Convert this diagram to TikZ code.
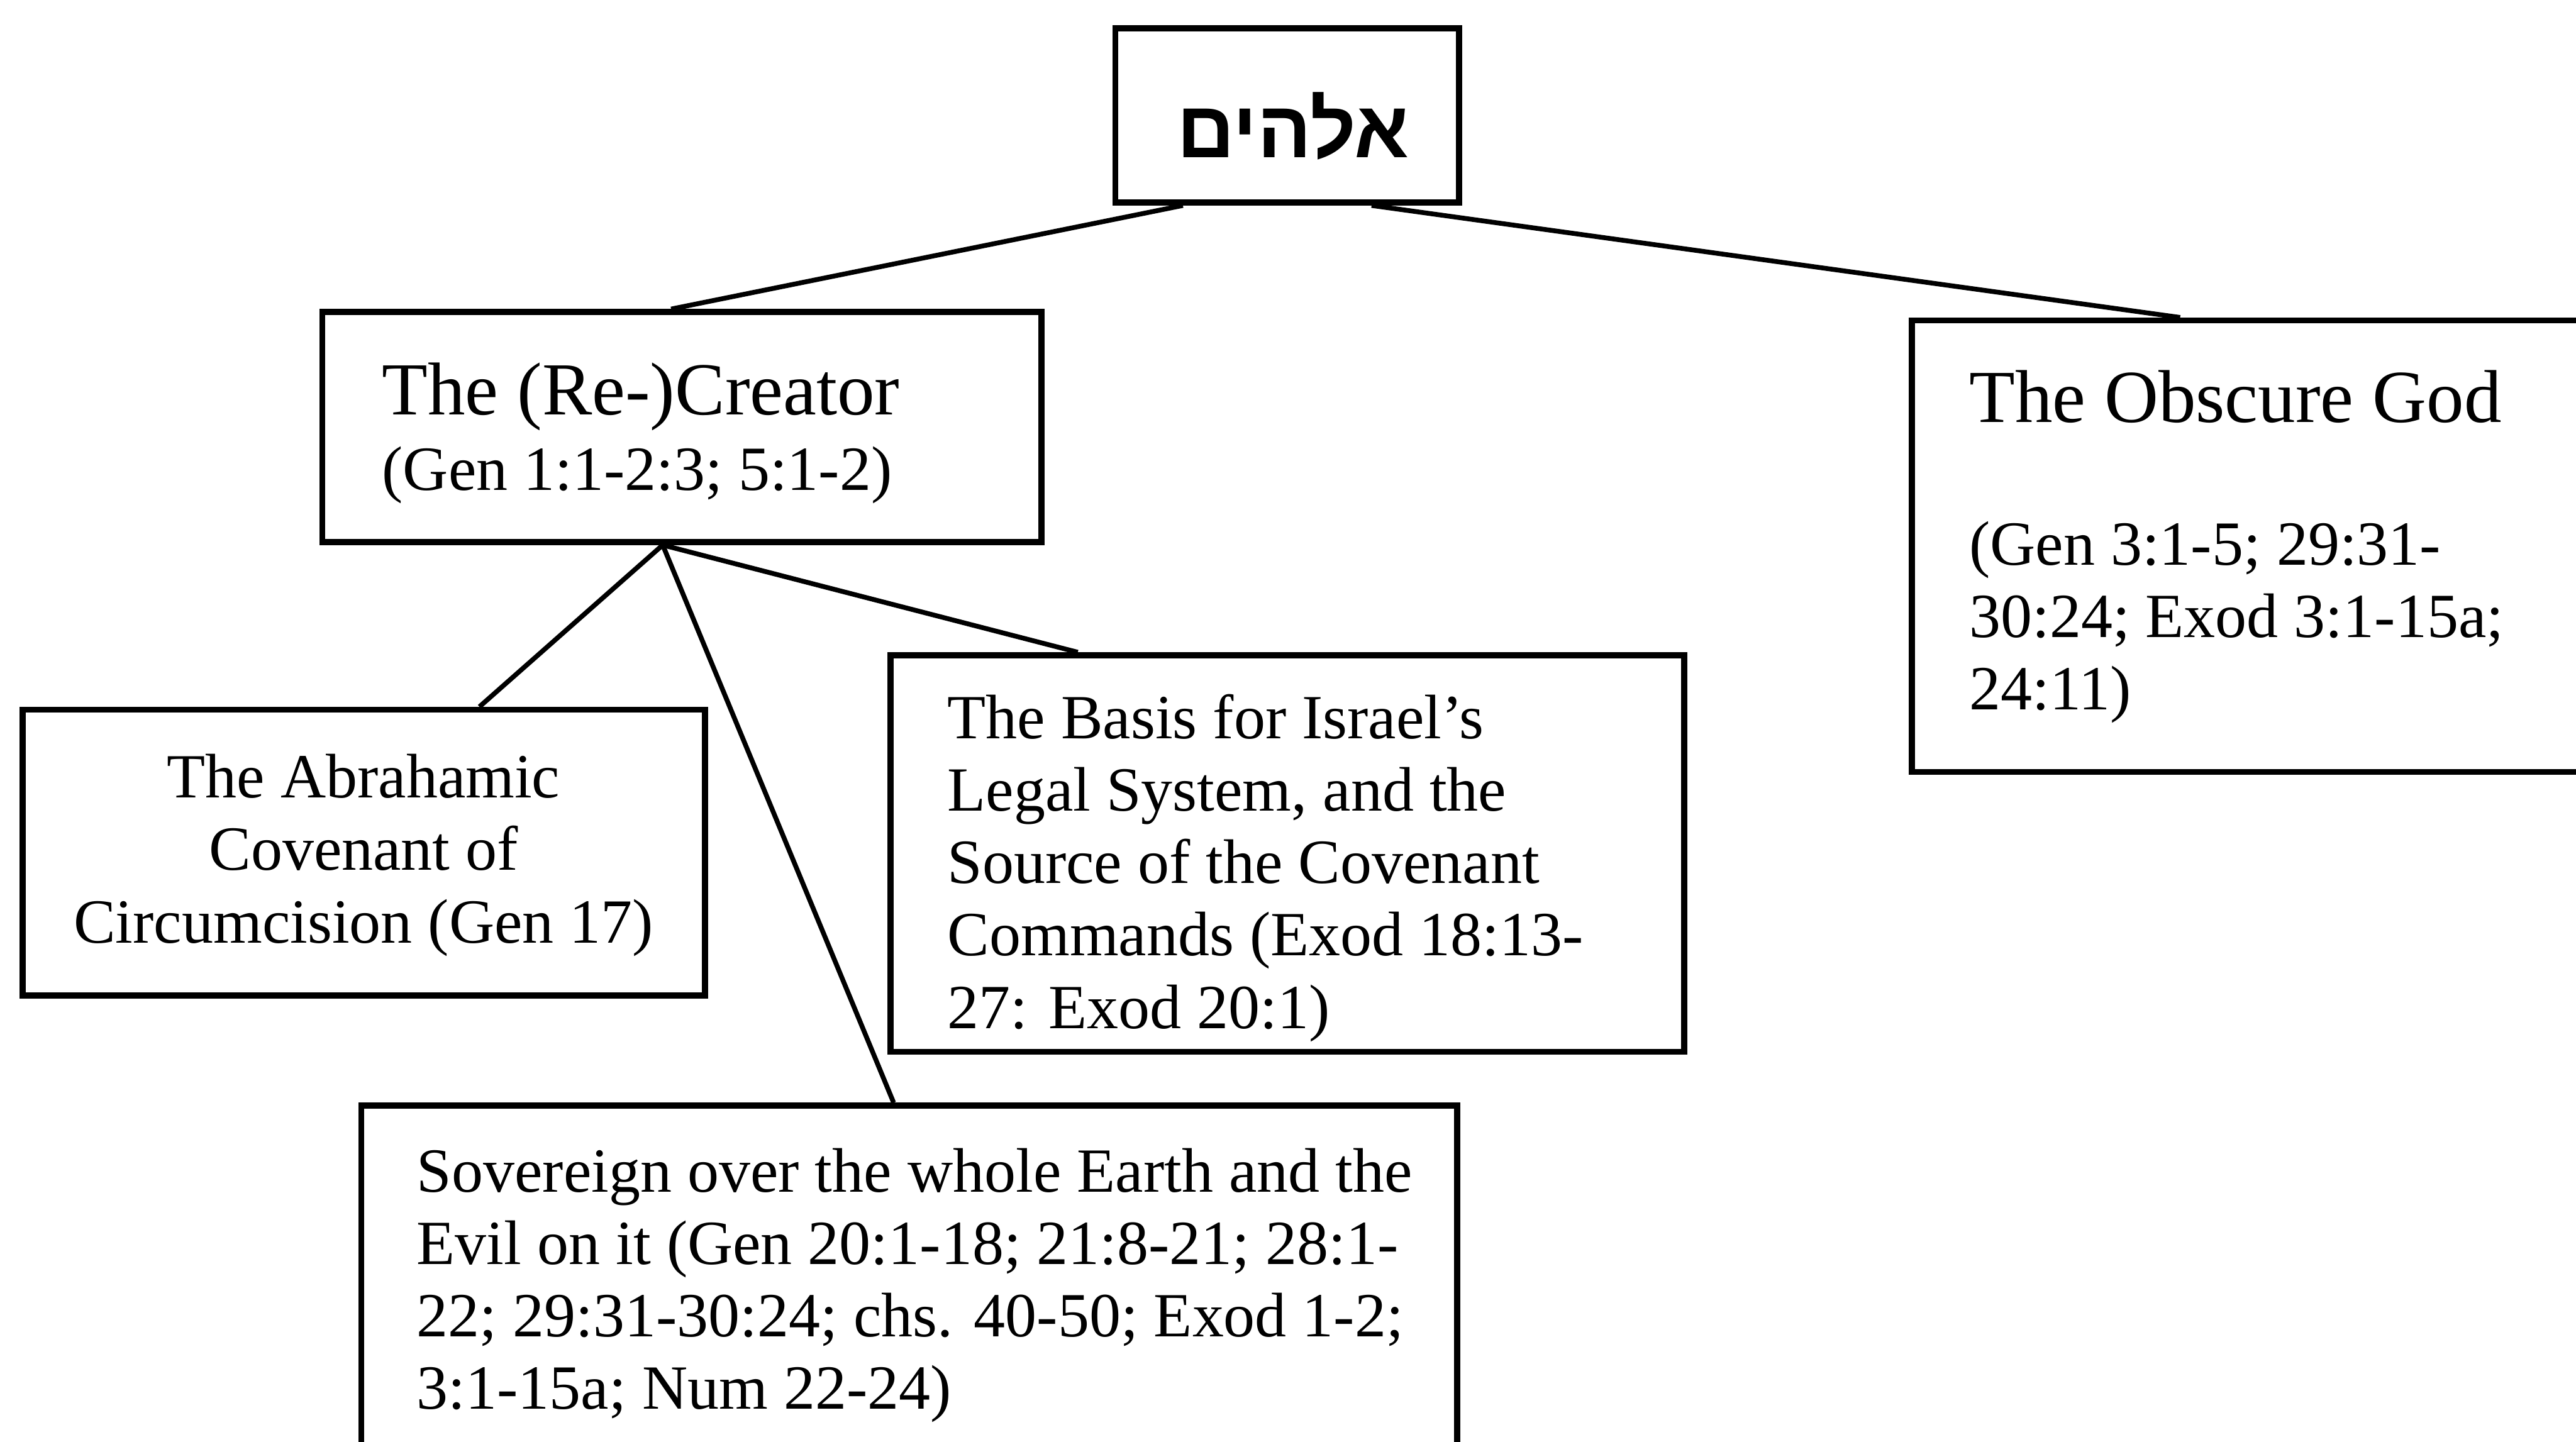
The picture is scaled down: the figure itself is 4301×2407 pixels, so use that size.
\documentclass[tikz,border=0pt]{standalone}
\usepackage{fontspec}
\setmainfont{Liberation Serif}
\newfontfamily\hebfont[Script=Hebrew]{Liberation Sans}
\TeXXeTstate=1
\newcommand\hdfont{\fontsize{12.5}{14}\selectfont}

\begin{document}
\begin{tikzpicture}[x=0.1pt,y=0.1pt,yscale=-1,xscale=1,
  box/.style={draw, line width=1pt, rectangle, inner sep=0pt},
  txt/.style={inner sep=0pt, align=left, anchor=base west, font=\fontsize{10.5}{12.1}\selectfont},
  link/.style={line width=0.8pt}]
%set diagram to the page size of the scan
\useasboundingbox (0,0) rectangle (4301,2407);

%Shape: Rectangle [elohim]
\node[box, minimum width=57.4pt, minimum height=29.1pt] (elohim) at (2149,192.5) {};
%Shape: Rectangle [creator]
\node[box, minimum width=120.1pt, minimum height=38.4pt] (creator) at (1138.5,713) {};
%Shape: Rectangle [obscure] (runs off the right edge)
\node[box, minimum width=114.8pt, minimum height=75.4pt] (obscure) at (3766,912) {};
%Shape: Rectangle [abraham]
\node[box, minimum width=113.9pt, minimum height=47.7pt] (abraham) at (607.5,1423.5) {};
%Shape: Rectangle [basis]
\node[box, minimum width=132.5pt, minimum height=66.2pt] (basis) at (2149.5,1425) {};
%Shape: Rectangle [sovereign] (runs off the bottom edge)
\node[box, minimum width=183pt, minimum height=61.4pt] (sovereign) at (1518,2153) {};

%Straight Lines
\draw[link] ([xshift=-17.4pt]elohim.south) -- ([xshift=-1.8pt]creator.north);
\draw[link] ([xshift=14.1pt]elohim.south) -- ([xshift=-12.6pt]obscure.north);
\coordinate (hub) at ([xshift=-3.2pt]creator.south);
\draw[link] (hub) -- ([xshift=19.3pt]abraham.north);
\draw[link] (hub) -- ([xshift=-2.6pt]sovereign.north);
\draw[link] (hub) -- ([xshift=-35pt]basis.north);

% Text Node (base anchors sit on the last line)
\node[txt, anchor=base, font=\fontsize{13.4}{16}\hebfont\bfseries] (elohimTxt) at (2159,263) {\beginR אלהים\endR};
% Text Node
\node[txt] (creatorTxt) at (636,818) {{\hdfont The (Re-)Creator}\\[0.5pt]
(Gen 1:1-2:3; 5:1-2)};
% Text Node
\node[txt] (obscureTxt) at (3286,1185) {{\hdfont The Obscure God}\\[11.7pt]
(Gen 3:1-5; 29:31-\\
30:24; Exod 3:1-15a;\\
24:11)};
% Text Node
\node[txt, align=center, anchor=base] (abrahamTxt) at (607,1574) {The Abrahamic\\
Covenant of\\
Circumcision (Gen 17)};
% Text Node
\node[txt] (basisTxt) at (1580,1717) {The Basis for Israel’s\\
Legal System, and the\\
Source of the Covenant\\
Commands (Exod 18:13-\\
27: Exod 20:1)};
% Text Node
\node[txt] (sovereignTxt) at (694,2353) {Sovereign over the whole Earth and the\\
Evil on it (Gen 20:1-18; 21:8-21; 28:1-\\
22; 29:31-30:24; chs. 40-50; Exod 1-2;\\
3:1-15a; Num 22-24)};

\end{tikzpicture}
\end{document}
